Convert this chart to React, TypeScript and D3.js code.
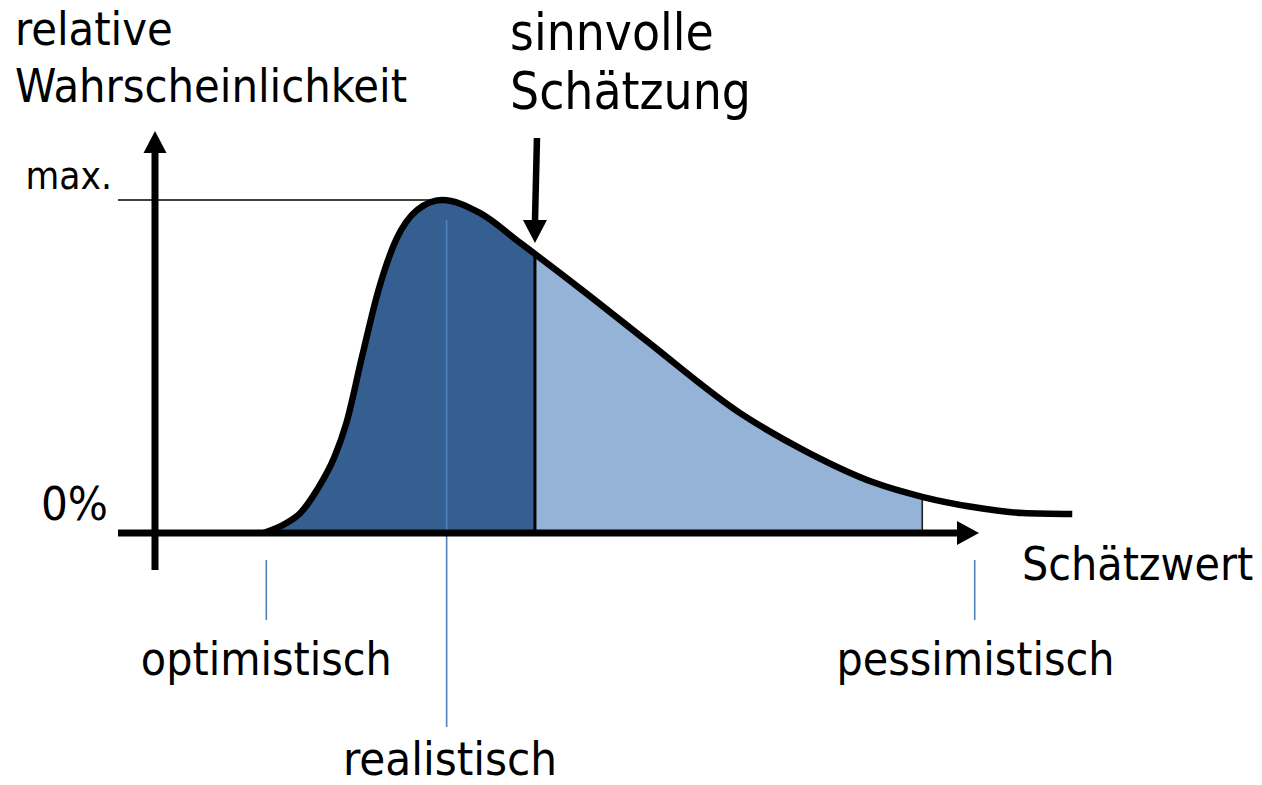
import React from 'react';
import * as d3 from 'd3';

// Curve: x = estimate value (0..100), y = relative probability (0..1)
const curveX = [11.8, 14.3, 15.8, 17.6, 19.5, 20.8, 22.5, 24.3, 26.2, 28.5, 31.2, 35.3, 39.7, 46.5, 53.3, 63.6, 70.9, 78.0, 83.5, 88.9, 94.3, 99.7];
const curveY = [0.0, 0.030, 0.060, 0.129, 0.228, 0.330, 0.529, 0.730, 0.880, 0.970, 1.0, 0.961, 0.871, 0.728, 0.580, 0.360, 0.243, 0.153, 0.108, 0.078, 0.060, 0.057];

const sensibleX = 41.3;
const fillEndX = 83.4;
const markerNames = ['optimistisch', 'realistisch', 'pessimistisch'];
const markerX = [12.1, 31.7, 89.1];

const yTickLabels = ['0%', 'max.'];
const yTickValues = [0, 1];

const W = 1262;
const H = 785;

const FONT = "'DejaVu Sans', Verdana, sans-serif";

export default function App() {
  const x = d3.scaleLinear().domain([0, 100]).range([155, 1075]);
  const y = d3.scaleLinear().domain([0, 1]).range([533, 200]);

  const pts: [number, number][] = curveX.map((v, i) => [v, curveY[i]]);
  const line = d3.line<[number, number]>().x(d => x(d[0])).y(d => y(d[1])).curve(d3.curveMonotoneX);
  const area = d3.area<[number, number]>().x(d => x(d[0])).y0(y(0)).y1(d => y(d[1])).curve(d3.curveMonotoneX);

  const linePath = line(pts) || '';
  const areaPath = area(pts) || '';

  const x0 = x(0);
  const y0 = y(0);
  const yMax = y(1);
  const xs = x(sensibleX);
  const xe = x(fillEndX);

  const ts = (size: number): React.CSSProperties => ({ fontFamily: FONT, fontSize: size, fontStretch: 'condensed', fill: '#000' });

  return (
    <svg width={W} height={H} style={{ position: 'absolute', left: 0, top: 0, background: '#fff' }}>
      <defs>
        <clipPath id="areaClip">
          <path d={areaPath} />
        </clipPath>
        <clipPath id="darkClip">
          <rect x={x(curveX[0]) - 5} y={0} width={xs - x(curveX[0]) + 5} height={H} />
        </clipPath>
        <clipPath id="lightClip">
          <rect x={xs} y={0} width={xe - xs} height={H} />
        </clipPath>
      </defs>

      {/* fills */}
      <path d={areaPath} fill="#365F91" clipPath="url(#darkClip)" />
      <path d={areaPath} fill="#95B3D7" clipPath="url(#lightClip)" />

      {/* realistic marker line */}
      <line x1={x(markerX[1])} x2={x(markerX[1])} y1={y(0.94)} y2={727} stroke="#4F81BD" strokeWidth={1.6} />

      {/* boundaries inside area */}
      <g clipPath="url(#areaClip)">
        <line x1={xs} x2={xs} y1={yMax - 20} y2={y0} stroke="#000" strokeWidth={3} />
        <line x1={xe} x2={xe} y1={yMax - 20} y2={y0} stroke="#222" strokeWidth={1.6} />
      </g>

      {/* max guide line */}
      <line x1={118} x2={x(curveX[10]) - 10} y1={yMax} y2={yMax} stroke="#000" strokeWidth={1.5} />

      {/* curve */}
      <path d={linePath} fill="none" stroke="#000" strokeWidth={6.5} strokeLinecap="butt" />

      {/* axes */}
      <line x1={118} x2={958} y1={y0} y2={y0} stroke="#000" strokeWidth={7} />
      <polygon points={`${957},${y0 - 12} ${979},${y0} ${957},${y0 + 12}`} fill="#000" />
      <line x1={x0} x2={x0} y1={570} y2={152} stroke="#000" strokeWidth={7} />
      <polygon points={`${x0 - 11.5},${153} ${x0},${131} ${x0 + 11.5},${153}`} fill="#000" />

      {/* optimistic / pessimistic ticks */}
      <line x1={x(markerX[0])} x2={x(markerX[0])} y1={560} y2={620} stroke="#4F81BD" strokeWidth={1.6} />
      <line x1={x(markerX[2])} x2={x(markerX[2])} y1={560} y2={620} stroke="#4F81BD" strokeWidth={1.6} />

      {/* sensible estimate arrow */}
      <line x1={xs + 2} x2={xs} y1={138} y2={222} stroke="#000" strokeWidth={6.5} />
      <polygon points={`${xs - 12},${220} ${xs},${243} ${xs + 12},${220}`} fill="#000" />

      {/* texts */}
      <text x={15} y={45} style={ts(46.5)}>relative</text>
      <text x={15} y={102} style={ts(46.5)}>Wahrscheinlichkeit</text>
      <text x={510} y={50} style={ts(51)}>sinnvolle</text>
      <text x={510} y={109} style={ts(51)}>Schätzung</text>
      <text x={112} y={y(yTickValues[1]) - 11} textAnchor="end" style={ts(38.5)}>{yTickLabels[1]}</text>
      <text x={108} y={y(yTickValues[0]) - 13} textAnchor="end" style={ts(47)}>{yTickLabels[0]}</text>
      <text x={1022} y={580} style={ts(46)}>Schätzwert</text>
      <text x={x(markerX[0])} y={675} textAnchor="middle" style={ts(46)}>{markerNames[0]}</text>
      <text x={450} y={775} textAnchor="middle" style={ts(47)}>{markerNames[1]}</text>
      <text x={975.5} y={675} textAnchor="middle" style={ts(46)}>{markerNames[2]}</text>
    </svg>
  );
}
